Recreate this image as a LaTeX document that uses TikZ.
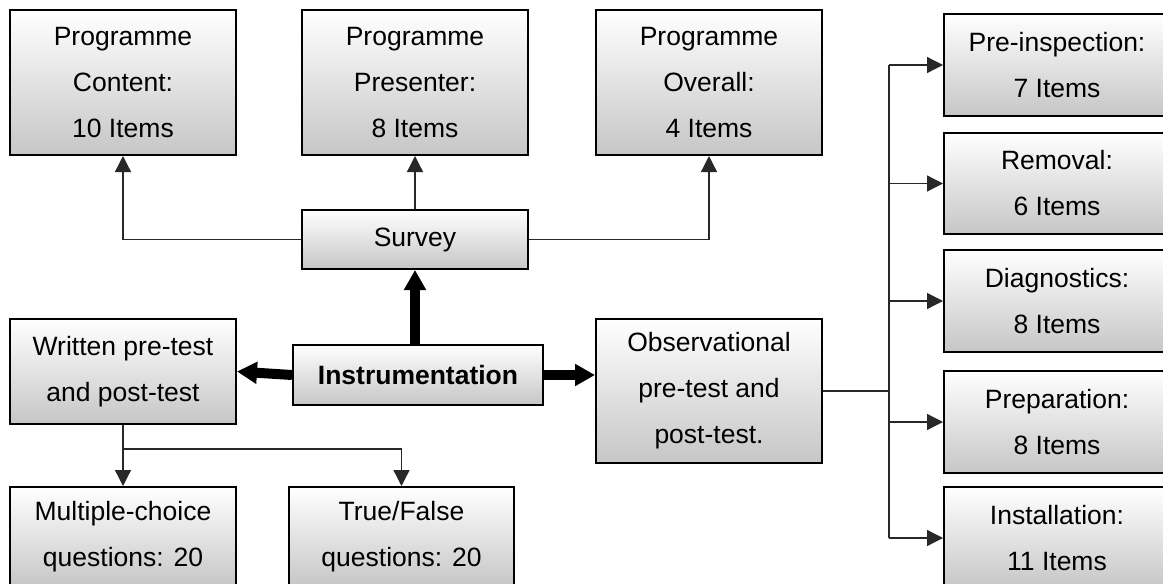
\documentclass[tikz,border=0pt]{standalone}
\usepackage{fontspec}
\setmainfont{Liberation Sans}
\usetikzlibrary{arrows.meta}
\definecolor{boxgray}{RGB}{198,198,198}
\definecolor{linegray}{RGB}{40,40,40}
\begin{document}
\begin{tikzpicture}[x=1pt,y=-1pt,
  box/.style={draw=black, line width=2pt, top color=white, bottom color=boxgray,
    minimum width=226pt, inner sep=0pt, align=center,
    font=\fontsize{26.5}{46}\selectfont},
  thinline/.style={line width=1.3pt, draw=linegray},
  tarrow/.style={thinline, -{Triangle[length=16pt,width=16pt]}},
  bigarrow/.style={line width=10pt, draw=black, -{Triangle[length=20pt,width=21pt]}}]
\clip (0,0) rectangle (1163,584);
\fill[white] (0,0) rectangle (1163,584);
% top row
\node[box, minimum height=145pt] (content)   at (123,82.5) {Programme\\Content:\\10 Items};
\node[box, minimum height=145pt] (presenter) at (415,82.5) {Programme\\Presenter:\\8 Items};
\node[box, minimum height=145pt] (overall)   at (709,82.5) {Programme\\Overall:\\4 Items};
% survey
\node[box, minimum height=59pt] (survey) at (415,239.5) {Survey};
% centre
\node[box, minimum width=250pt, minimum height=60pt, font=\fontsize{26.5}{46}\selectfont\bfseries] (instr) at (418,375) {Instrumentation};
\node[box, minimum height=105pt] (written) at (123,371.5) {Written pre-test\\and post-test};
\node[box, minimum height=144pt] (obs) at (709,391) {Observational\\pre-test and\\post-test.};
% bottom
\node[box, minimum height=100pt] (mc) at (123,537) {Multiple-choice\\questions: 20};
\node[box, minimum width=225pt, minimum height=100pt] (tf) at (401.5,537) {True/False\\questions: 20};
% right column
\node[box, minimum height=102pt] (pre)     at (1057,65)   {Pre-inspection:\\7 Items};
\node[box, minimum height=101pt] (rem)     at (1057,183.5){Removal:\\6 Items};
\node[box, minimum height=102pt] (diag)    at (1057,301)  {Diagnostics:\\8 Items};
\node[box, minimum height=102pt] (prep)    at (1057,422)  {Preparation:\\8 Items};
\node[box, minimum height=102pt] (install) at (1057,538)  {Installation:\\11 Items};
% thick arrows
\draw[bigarrow] (survey.south |- instr.north) -- (survey.south);
\draw[bigarrow] (instr.west) -- (written.east);
\draw[bigarrow] (instr.east) -- (instr.east -| obs.west);
% survey connectors
\draw[tarrow] (survey.north) -- (presenter.south);
\draw[tarrow] (survey.west) -| (content.south);
\draw[tarrow] (survey.east) -| (overall.south);
% written connectors
\coordinate (wj) at (123,449);
\draw[thinline] (written.south) -- (wj);
\draw[tarrow] (wj) -- (mc.north);
\draw[tarrow] (wj) -| (tf.north);
% observational trunk
\coordinate (tr) at (889,391);
\draw[thinline] (obs.east) -- (tr);
\draw[thinline] (pre.west -| tr) -- (install.west -| tr);
\draw[tarrow] (pre.west -| tr) -- (pre.west);
\draw[tarrow] (rem.west -| tr) -- (rem.west);
\draw[tarrow] (diag.west -| tr) -- (diag.west);
\draw[tarrow] (prep.west -| tr) -- (prep.west);
\draw[tarrow] (install.west -| tr) -- (install.west);
\end{tikzpicture}
\end{document}
